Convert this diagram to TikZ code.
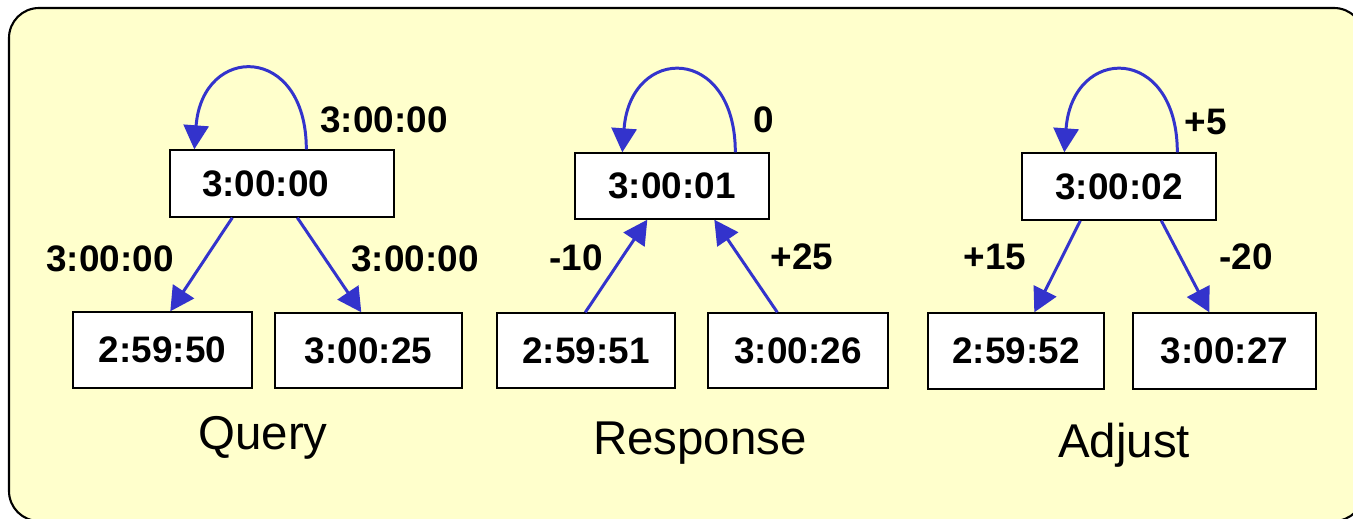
\documentclass[tikz,border=0pt]{standalone}
\usepackage{fontspec}
\setmainfont{Liberation Sans}
\usepackage{xcolor}
\usepackage{tikz}
\usetikzlibrary{arrows.meta, calc}

\definecolor{paleyellow}{HTML}{FFFFCC}
\definecolor{linkblue}{HTML}{3333CC}

\tikzset{
    clock/.style={draw=black, fill=white, line width=0.8pt, inner sep=0pt,
        font=\fontsize{21}{25}\selectfont\bfseries},
    offset/.style={font=\fontsize{21}{25}\selectfont\bfseries},
    phase/.style={font=\fontsize{27}{32}\selectfont},
    link/.style={draw=linkblue, line width=1.7pt,
        -{Triangle[length=0.48cm, width=0.5cm]}}
}

\begin{document}
\begin{tikzpicture}[x=0.02cm, y=-0.02cm]
        \useasboundingbox (0,0) rectangle (1353,518);
        \clip (0,0) rectangle (1353,518);
        \draw[fill=paleyellow, line width=1.2pt, rounded corners=0.6cm] (9,8) rectangle (1364,521);

        % Query
        \node[clock, minimum width=4.48cm, minimum height=1.34cm, text width=3.2cm, inner xsep=0.64cm, align=left] (q0) at (282,183.5) {3:00:00};
        \node[clock, minimum width=3.58cm, minimum height=1.52cm] (q1) at (162.5,350) {2:59:50};
        \node[clock, minimum width=3.74cm, minimum height=1.5cm] (q2) at (368.5,350.5) {3:00:25};
        \draw[link] ($(q0.north west)+(137,0)$) .. controls +(0,-106) and +(8,-106) .. ($(q0.north west)+(25,0)$);
        \draw[link] ($(q0.south west)+(63,0)$) -- ($(q1.north west)+(98,0)$);
        \draw[link] ($(q0.south west)+(128,0)$) -- ($(q2.north west)+(87,0)$);
        \node[offset] (qself) at (384,120) {3:00:00};
        \node[offset] (qleft) at (110,259) {3:00:00};
        \node[offset] (qright) at (415,259) {3:00:00};
        \node[phase] (query) at (263,438) {Query};

        % Response
        \node[clock, minimum width=3.88cm, minimum height=1.32cm] (r0) at (672,186) {3:00:01};
        \node[clock, minimum width=3.56cm, minimum height=1.5cm] (r1) at (586,350.5) {2:59:51};
        \node[clock, minimum width=3.6cm, minimum height=1.5cm] (r2) at (798,350.5) {3:00:26};
        \draw[link] ($(r0.north west)+(161,0)$) .. controls +(0,-108) and +(8,-108) .. ($(r0.north west)+(48,0)$);
        \draw[link] ($(r1.north west)+(89,0)$) -- ($(r0.south west)+(73,0)$);
        \draw[link] ($(r2.north west)+(70,0)$) -- ($(r0.south west)+(140,0)$);
        \node[offset] (rself) at (764,120) {0};
        \node[offset] (rleft) at (576,258) {-10};
        \node[offset] (rright) at (802,257) {+25};
        \node[phase] (response) at (700,443) {Response};

        % Adjust
        \node[clock, minimum width=3.88cm, minimum height=1.34cm] (a0) at (1119,186.5) {3:00:02};
        \node[clock, minimum width=3.52cm, minimum height=1.52cm] (a1) at (1016,351) {2:59:52};
        \node[clock, minimum width=3.66cm, minimum height=1.52cm] (a2) at (1224.5,351) {3:00:27};
        \draw[link] ($(a0.north west)+(156,0)$) .. controls +(0,-108) and +(8,-108) .. ($(a0.north west)+(43,0)$);
        \draw[link] ($(a0.south west)+(59,0)$) -- ($(a1.north west)+(107,0)$);
        \draw[link] ($(a0.south west)+(140,0)$) -- ($(a2.north west)+(77,0)$);
        \node[offset] (aself) at (1206,122) {+5};
        \node[offset] (aleft) at (995,257) {+15};
        \node[offset] (aright) at (1246,257) {-20};
        \node[phase] (adjust) at (1124,445) {Adjust};
    \end{tikzpicture}
\end{document}
